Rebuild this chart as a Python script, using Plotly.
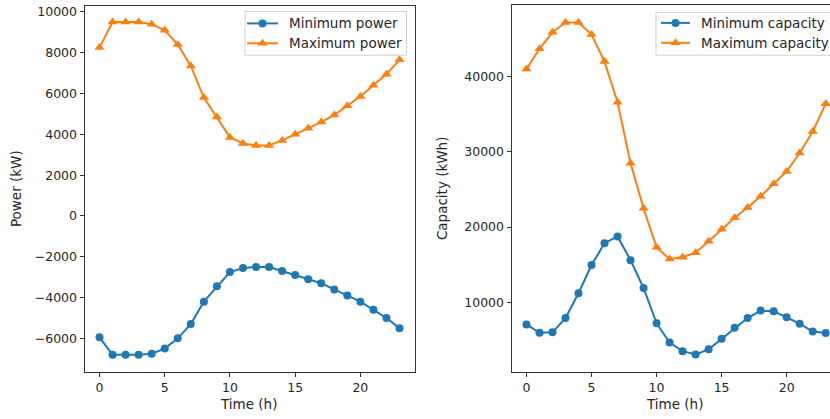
import plotly.graph_objects as go

hours = list(range(24))
power_min = [-5950, -6800, -6800, -6800, -6750, -6500, -6000, -5300, -4200, -3450,
             -2750, -2550, -2500, -2500, -2700, -2900, -3100, -3300, -3600, -3900,
             -4200, -4600, -5000, -5500]
power_max = [8250, 9500, 9500, 9500, 9400, 9100, 8400, 7350, 5800, 4850,
             3850, 3550, 3450, 3450, 3700, 4000, 4300, 4600, 4950, 5400,
             5850, 6400, 6950, 7650]
cap_min = [7050, 5950, 6000, 7900, 11200, 14950, 17850, 18750, 15600, 11900,
           7200, 4650, 3500, 3050, 3750, 5150, 6600, 7900, 8900, 8800,
           8000, 7150, 6100, 5900]
cap_max = [41000, 43700, 45900, 47200, 47200, 45600, 42000, 36600, 28500, 22500,
           17300, 15750, 16000, 16600, 18100, 19700, 21250, 22600, 24100, 25750,
           27400, 29850, 32700, 36400]

x_ticks = [0, 5, 10, 15, 20]
power_ticks = [-6000, -4000, -2000, 0, 2000, 4000, 6000, 8000, 10000]
power_tick_text = ["\u22126000", "\u22124000", "\u22122000", "0", "2000", "4000", "6000", "8000", "10000"]
cap_ticks = [10000, 20000, 30000, 40000]
cap_tick_text = ["10000", "20000", "30000", "40000"]

legend_left = ["Minimum power", "Maximum power"]
legend_right = ["Minimum capacity", "Maximum capacity"]

BLUE = "#1f77b4"
ORANGE = "#ff7f0e"
TXT = "#262626"
FRAME = "#333333"
FONT = "DejaVu Sans"
TICK_SIZE = 12.5
LABEL_SIZE = 13.5
W, H = 830, 419

fig = go.Figure()

def add_series(x, y, color, symbol, xa, ya):
    fig.add_trace(go.Scatter(
        x=x, y=y, mode="lines+markers", xaxis=xa, yaxis=ya,
        line=dict(color=color, width=2),
        marker=dict(color=color, size=8 if symbol == "circle" else 9, symbol=symbol, line=dict(width=0)),
        showlegend=False, hoverinfo="skip"))

add_series(hours, power_min, BLUE, "circle", "x", "y")
add_series(hours, power_max, ORANGE, "triangle-up", "x", "y")
add_series(hours, cap_min, BLUE, "circle", "x2", "y2")
add_series(hours, cap_max, ORANGE, "triangle-up", "x2", "y2")

def px_x(p):
    return p / W

def px_y(p):
    return 1 - p / H

axis_common = dict(showgrid=False, zeroline=False, showline=True, linecolor=FRAME, linewidth=1,
                   ticks="outside", ticklen=4, tickwidth=1, tickcolor=FRAME,
                   tickfont=dict(family=FONT, size=TICK_SIZE, color=TXT))

fig.update_layout(
    width=W, height=H, margin=dict(l=0, r=0, t=0, b=0),
    paper_bgcolor="white", plot_bgcolor="rgba(0,0,0,0)",
    showlegend=False,
    xaxis=dict(domain=[px_x(84.5), px_x(414.5)], range=[-1.15, 24.15], tickvals=x_ticks,
               anchor="y", mirror=True, **axis_common),
    yaxis=dict(domain=[px_y(372), px_y(4)], range=[-7660, 10290], tickvals=power_ticks,
               ticktext=power_tick_text, anchor="x", mirror=True, **axis_common),
    xaxis2=dict(domain=[px_x(511.5), 1.0], range=[-1.15, 23.33], tickvals=x_ticks,
                anchor="y2", mirror=True, **axis_common),
    yaxis2=dict(domain=[px_y(371.7), px_y(3.5)], range=[740, 49460], tickvals=cap_ticks,
                ticktext=cap_tick_text, anchor="x2", mirror=False, **axis_common),
    xaxis3=dict(domain=[0, 1], range=[0, W], visible=False, anchor="y3", fixedrange=True),
    yaxis3=dict(domain=[0, 1], range=[H, 0], visible=False, anchor="x3", fixedrange=True),
)

# axis titles
annos = [
    dict(text="Time (h)", x=248, y=404),
    dict(text="Time (h)", x=674, y=404),
    dict(text="Power (kW)", x=16, y=188, textangle=-90),
    dict(text="Capacity (kWh)", x=442, y=187, textangle=-90),
]
for a in annos:
    fig.add_annotation(xref="x3", yref="y3", showarrow=False, xanchor="center", yanchor="middle",
                       font=dict(family=FONT, size=LABEL_SIZE, color=TXT), **a)

# legends (drawn in pixel overlay)
def draw_legend(box, labels, line_x0, line_x1, text_x, rows):
    x0, y0, x1, y1 = box
    fig.add_shape(type="rect", xref="x3", yref="y3", x0=x0, y0=y0, x1=x1, y1=y1,
                  line=dict(color="#d0d0d0", width=1), fillcolor="white", layer="below")
    colors = [BLUE, ORANGE]
    symbols = ["circle", "triangle-up"]
    for lab, c, s, ry in zip(labels, colors, symbols, rows):
        fig.add_trace(go.Scatter(x=[line_x0, line_x1], y=[ry, ry], xaxis="x3", yaxis="y3",
                                 mode="lines", line=dict(color=c, width=2),
                                 showlegend=False, hoverinfo="skip", cliponaxis=False))
        fig.add_trace(go.Scatter(x=[(line_x0 + line_x1) / 2], y=[ry], xaxis="x3", yaxis="y3",
                                 mode="markers",
                                 marker=dict(color=c, size=8 if s == "circle" else 9, symbol=s, line=dict(width=0)),
                                 showlegend=False, hoverinfo="skip", cliponaxis=False))
        fig.add_annotation(xref="x3", yref="y3", x=text_x, y=ry, text=lab, showarrow=False,
                           xanchor="left", yanchor="middle",
                           font=dict(family=FONT, size=LABEL_SIZE, color=TXT))

draw_legend((245, 9.5, 406.5, 53.5), legend_left, 247, 278, 287, [21.5, 41.5])
draw_legend((656, 10.5, 845, 53.5), legend_right, 661, 690, 699, [21, 41])

fig.write_html("out.html")
